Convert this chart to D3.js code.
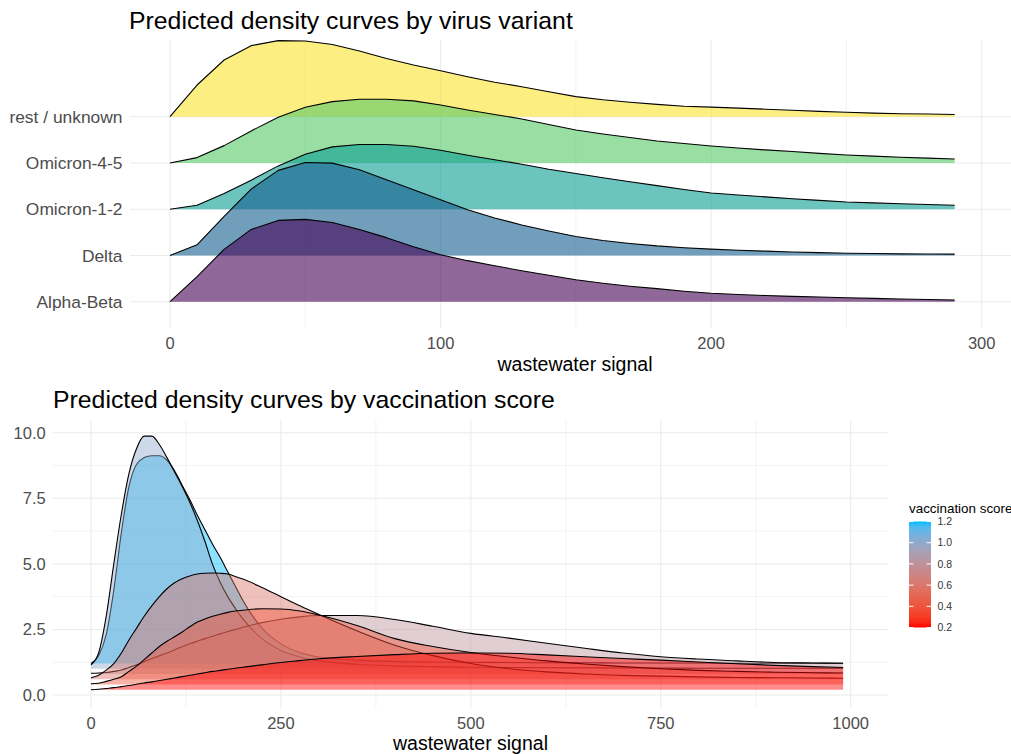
<!DOCTYPE html>
<html>
<head>
<meta charset="utf-8">
<script src="https://cdn.jsdelivr.net/npm/d3@7"></script>
<style>
  html, body { margin: 0; padding: 0; background: #ffffff; }
  svg { display: block; font-family: "Liberation Sans", Arial, sans-serif; }
</style>
</head>
<body>
<svg id="chart" width="1011" height="754"></svg>
<script>
// ---------- Panel 1: predicted density by virus variant ----------
const variants = ["Alpha-Beta", "Delta", "Omicron-1-2", "Omicron-4-5", "rest / unknown"];
const variantSignal = [0, 10, 20, 30, 40, 50, 60, 70, 80, 90, 100, 110, 120, 130, 140,
  150, 160, 170, 180, 190, 200, 210, 220, 230, 240, 250, 260, 270, 280, 290];
// predicted density, in units of 1e-4
const densityAlphaBeta = [0, 28.6, 59.8, 82.6, 92.9, 94.1, 90.6, 82.6, 73.2, 62.9, 53.7, 46.9, 41.1, 35.4, 30.3,
  25.1, 21.1, 17.7, 14.9, 12.0, 9.7, 8.3, 7.1, 6.1, 5.3, 4.6, 3.8, 3.1, 2.5, 1.9];
const densityDelta = [0, 12.2, 44.6, 75.8, 97.2, 106.3, 105.5, 98.0, 86.5, 75.1, 63.7, 52.2, 42.9, 34.9, 28.0,
  21.7, 17.1, 13.7, 10.9, 8.8, 7.2, 5.9, 4.9, 4.0, 3.2, 2.6, 2.2, 1.8, 1.6, 1.5];
const densityOmicron12 = [0, 4.6, 17.9, 33.1, 49.5, 62.9, 71.2, 74.0, 74.0, 72.0, 67.4, 61.7, 56.6, 51.4, 45.7,
  40.8, 36.0, 31.4, 26.9, 22.6, 18.6, 16.2, 14.1, 12.0, 10.1, 8.3, 7.2, 6.2, 5.3, 4.6];
const densityOmicron45 = [0, 6.1, 19.8, 36.6, 52.2, 63.7, 70.1, 72.8, 72.8, 70.9, 66.3, 60.6, 55.4, 50.3, 44.0,
  37.7, 33.1, 29.1, 25.1, 22.3, 19.4, 17.1, 14.9, 13.1, 10.9, 9.1, 7.8, 6.5, 5.5, 4.6];
const densityRest = [0, 36.2, 64.8, 81.2, 86.9, 86.5, 82.6, 75.1, 66.6, 59.1, 52.6, 45.7, 39.4, 34.3, 28.6,
  22.9, 19.4, 16.6, 14.1, 12.0, 10.9, 9.8, 8.6, 7.3, 6.1, 5.0, 4.1, 3.4, 3.0, 2.6];
const variantDensities = [densityAlphaBeta, densityDelta, densityOmicron12, densityOmicron45, densityRest];
const variantColors = ["#440154", "#125e8e", "#0a9d95", "#55c865", "#fbe22e"];
const variantTicks = [0, 100, 200, 300];
const variantMinorTicks = [50, 150, 250];

// ---------- Panel 2: predicted density by vaccination score ----------
const vaccScores = [1.2, 1.0, 0.8, 0.6, 0.4, 0.2];
const vaccSignal = [0, 10, 20, 30, 40, 50, 60, 70, 80, 90, 100, 110, 120, 130, 140, 150, 160, 170, 180, 190,
  200, 225, 250, 275, 300, 350, 400, 450, 500, 550, 600, 650, 700, 750, 800, 850, 900, 950, 990];
const densityScore12 = [0, 0.3, 1.1, 2.8, 5.0, 6.75, 7.6, 7.85, 7.92, 7.92, 7.75, 7.35, 6.8, 6.25, 5.65, 5.1, 4.55, 4.05, 3.5, 2.95,
  2.4, 1.35, 0.75, 0.42, 0.25, 0.13, 0.08, 0.06, 0.05, 0.04, 0.03, 0.03, 0.02, 0.02, 0.02, 0.01, 0.01, 0.01, 0.01];
const densityScore10 = [0.15, 0.6, 2.0, 4.0, 5.9, 7.45, 8.4, 8.87, 8.87, 8.55, 8.05, 7.5, 6.95, 6.35, 5.65, 4.85, 3.98, 3.3, 2.75, 2.3,
  1.9, 1.15, 0.7, 0.45, 0.3, 0.17, 0.11, 0.08, 0.06, 0.05, 0.04, 0.04, 0.03, 0.03, 0.02, 0.02, 0.02, 0.02, 0.02];
const densityScore08 = [0.03, 0.04, 0.06, 0.1, 0.15, 0.25, 0.35, 0.47, 0.59, 0.7, 0.8, 0.92, 1.04, 1.15, 1.25, 1.35, 1.44, 1.53, 1.62, 1.7,
  1.78, 1.96, 2.09, 2.18, 2.23, 2.23, 2.08, 1.82, 1.55, 1.37, 1.17, 0.98, 0.8, 0.66, 0.57, 0.5, 0.44, 0.42, 0.41];
const densityScore06 = [0.06, 0.15, 0.35, 0.6, 1.0, 1.5, 1.95, 2.4, 2.8, 3.15, 3.45, 3.68, 3.83, 3.94, 4.01, 4.04, 4.05, 4.04, 4.01, 3.92,
  3.82, 3.5, 3.15, 2.8, 2.47, 1.85, 1.3, 0.9, 0.6, 0.4, 0.28, 0.2, 0.15, 0.12, 0.09, 0.07, 0.06, 0.05, 0.04];
const densityScore04 = [0.03, 0.05, 0.12, 0.2, 0.3, 0.5, 0.7, 0.95, 1.2, 1.45, 1.65, 1.82, 2.0, 2.2, 2.38, 2.5, 2.6, 2.68, 2.75, 2.8,
  2.83, 2.89, 2.88, 2.8, 2.65, 2.25, 1.75, 1.45, 1.22, 1.05, 0.9, 0.78, 0.68, 0.6, 0.54, 0.5, 0.47, 0.45, 0.44];
const densityScore02 = [0, 0.02, 0.05, 0.08, 0.12, 0.16, 0.21, 0.26, 0.3, 0.35, 0.4, 0.45, 0.5, 0.55, 0.6, 0.65, 0.7, 0.74, 0.78, 0.82,
  0.86, 0.95, 1.04, 1.11, 1.18, 1.27, 1.34, 1.39, 1.4, 1.39, 1.33, 1.26, 1.19, 1.13, 1.06, 0.99, 0.93, 0.88, 0.85];
const vaccDensities = [densityScore12, densityScore10, densityScore08, densityScore06, densityScore04, densityScore02];
const vaccXTicks = [0, 250, 500, 750, 1000];
const vaccXMinor = [125, 375, 625, 875];
const vaccYTicks = [0, 2.5, 5, 7.5, 10];
const vaccYMinor = [1.25, 3.75, 6.25, 8.75];
const legendTicks = [0.2, 0.4, 0.6, 0.8, 1.0, 1.2];

const svg = d3.select("#chart");
const gridMajor = "#ebebeb";
const textGrey = "#4d4d4d";

// ================= Panel 1 =================
const p1 = { left: 130, right: 1011, top: 40, bottom: 328.3 };
const x1 = d3.scaleLinear().domain([0, 300]).range([170, 981.7]);
const y1 = d3.scalePoint().domain(variants).range([301.7, 116.7]);
const h1 = d3.scaleLinear().domain([0, 100]).range([0, 87.5]);

const g1 = svg.append("g");
g1.selectAll("line.minor").data(variantMinorTicks).join("line")
  .attr("x1", d => x1(d)).attr("x2", d => x1(d))
  .attr("y1", p1.top).attr("y2", p1.bottom)
  .attr("stroke", gridMajor).attr("stroke-width", 0.6);
g1.selectAll("line.vmaj").data(variantTicks).join("line")
  .attr("x1", d => x1(d)).attr("x2", d => x1(d))
  .attr("y1", p1.top).attr("y2", p1.bottom)
  .attr("stroke", gridMajor).attr("stroke-width", 1.1);
g1.selectAll("line.hmaj").data(variants).join("line")
  .attr("x1", p1.left).attr("x2", p1.right)
  .attr("y1", d => y1(d)).attr("y2", d => y1(d))
  .attr("stroke", gridMajor).attr("stroke-width", 1.1);

// ridges: top category first so lower ridges overlap it
const order1 = d3.range(variants.length).reverse();
order1.forEach(i => {
  const base = y1(variants[i]);
  const pts = variantSignal.map((s, k) => ({ s, v: variantDensities[i][k] }));
  const area = d3.area().x(d => x1(d.s)).y0(base).y1(d => base - h1(d.v));
  const line = d3.line().x(d => x1(d.s)).y(d => base - h1(d.v));
  g1.append("path").attr("d", area(pts))
    .attr("fill", variantColors[i]).attr("fill-opacity", 0.6).attr("stroke", "none");
  g1.append("path").attr("d", line(pts))
    .attr("fill", "none").attr("stroke", "#000").attr("stroke-width", 1.1)
    .attr("stroke-linejoin", "round");
});

g1.selectAll("text.ylab").data(variants).join("text")
  .attr("x", 122.5).attr("y", d => y1(d)).attr("dy", "0.36em")
  .attr("text-anchor", "end").attr("font-size", 17.4).attr("fill", textGrey)
  .text(d => d);
g1.selectAll("text.xlab").data(variantTicks).join("text")
  .attr("x", d => x1(d)).attr("y", 349).attr("text-anchor", "middle")
  .attr("font-size", 16.5).attr("fill", textGrey).text(d => d);
g1.append("text").attr("x", 575).attr("y", 370.5).attr("text-anchor", "middle")
  .attr("font-size", 19.5).attr("fill", "#000").text("wastewater signal");
g1.append("text").attr("x", 129).attr("y", 29.3)
  .attr("font-size", 24.8).attr("fill", "#000").text("Predicted density curves by virus variant");

// ================= Panel 2 =================
const p2 = { left: 52.7, right: 888.3, top: 420, bottom: 708.3 };
const x2 = d3.scaleLinear().domain([0, 1000]).range([91, 850.7]);
const y2 = d3.scaleLinear().domain([0, 10]).range([695, 432.7]);
const fillScale = d3.scaleLinear().domain([0.2, 1.2]).range(["#ff0000", "#00bfff"])
  .interpolate(d3.interpolateLab);

const g2 = svg.append("g");
g2.selectAll("line.vmin").data(vaccXMinor).join("line")
  .attr("x1", d => x2(d)).attr("x2", d => x2(d))
  .attr("y1", p2.top).attr("y2", p2.bottom)
  .attr("stroke", gridMajor).attr("stroke-width", 0.6);
g2.selectAll("line.hmin").data(vaccYMinor).join("line")
  .attr("x1", p2.left).attr("x2", p2.right)
  .attr("y1", d => y2(d)).attr("y2", d => y2(d))
  .attr("stroke", gridMajor).attr("stroke-width", 0.6);
g2.selectAll("line.vmaj").data(vaccXTicks).join("line")
  .attr("x1", d => x2(d)).attr("x2", d => x2(d))
  .attr("y1", p2.top).attr("y2", p2.bottom)
  .attr("stroke", gridMajor).attr("stroke-width", 1.1);
g2.selectAll("line.hmaj").data(vaccYTicks).join("line")
  .attr("x1", p2.left).attr("x2", p2.right)
  .attr("y1", d => y2(d)).attr("y2", d => y2(d))
  .attr("stroke", gridMajor).attr("stroke-width", 1.1);

vaccScores.forEach((score, i) => {
  const pts = vaccSignal.map((s, k) => ({ s, v: vaccDensities[i][k] }));
  const area = d3.area().curve(d3.curveMonotoneX)
    .x(d => x2(d.s)).y0(y2(score)).y1(d => y2(score + d.v));
  const line = d3.line().curve(d3.curveMonotoneX)
    .x(d => x2(d.s)).y(d => y2(score + d.v));
  g2.append("path").attr("d", area(pts))
    .attr("fill", fillScale(score)).attr("fill-opacity", 0.45).attr("stroke", "none");
  g2.append("path").attr("d", line(pts))
    .attr("fill", "none").attr("stroke", "#000").attr("stroke-width", 1.1)
    .attr("stroke-linejoin", "round");
});

g2.selectAll("text.ylab").data(vaccYTicks).join("text")
  .attr("x", 45.7).attr("y", d => y2(d)).attr("dy", "0.36em")
  .attr("text-anchor", "end").attr("font-size", 16.5).attr("fill", textGrey)
  .text(d => d3.format(".1f")(d));
g2.selectAll("text.xlab").data(vaccXTicks).join("text")
  .attr("x", d => x2(d)).attr("y", 729).attr("text-anchor", "middle")
  .attr("font-size", 16.5).attr("fill", textGrey).text(d => d);
g2.append("text").attr("x", 470.5).attr("y", 750).attr("text-anchor", "middle")
  .attr("font-size", 19.5).attr("fill", "#000").text("wastewater signal");
g2.append("text").attr("x", 53).attr("y", 408.3)
  .attr("font-size", 24.8).attr("fill", "#000").text("Predicted density curves by vaccination score");

// ---------- colour bar legend ----------
const legY = d3.scaleLinear().domain([0.2, 1.2]).range([627.5, 521.5]);
const defs = svg.append("defs");
const grad = defs.append("linearGradient").attr("id", "vaccGrad")
  .attr("x1", 0).attr("x2", 0).attr("y1", 1).attr("y2", 0);
d3.range(0, 1.0001, 0.05).forEach(t => {
  grad.append("stop").attr("offset", t).attr("stop-color", fillScale(0.2 + t));
});
const leg = svg.append("g");
leg.append("rect").attr("x", 909).attr("y", legY(1.2)).attr("width", 22)
  .attr("height", legY(0.2) - legY(1.2)).attr("fill", "url(#vaccGrad)");
leg.selectAll("line.tl").data(legendTicks).join("line")
  .attr("x1", 909).attr("x2", 913.4).attr("y1", d => legY(d)).attr("y2", d => legY(d))
  .attr("stroke", "#fff").attr("stroke-width", 1);
leg.selectAll("line.tr").data(legendTicks).join("line")
  .attr("x1", 926.6).attr("x2", 931).attr("y1", d => legY(d)).attr("y2", d => legY(d))
  .attr("stroke", "#fff").attr("stroke-width", 1);
leg.selectAll("text").data(legendTicks).join("text")
  .attr("x", 937.5).attr("y", d => legY(d)).attr("dy", "0.36em")
  .attr("font-size", 10.5).attr("fill", "#333").text(d => d3.format(".1f")(d));
leg.append("text").attr("x", 909).attr("y", 513).attr("font-size", 13.4)
  .attr("fill", "#000").text("vaccination score");
</script>
</body>
</html>
